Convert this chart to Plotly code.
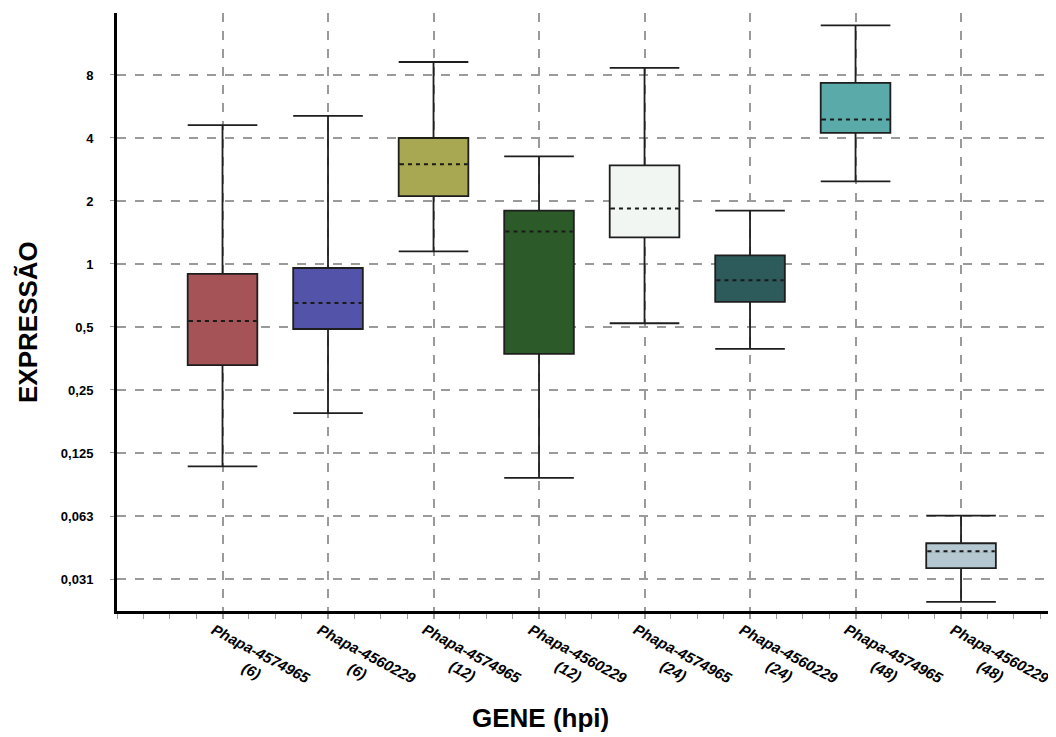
import plotly.graph_objects as go
import math

# ---- data ----
genes = ["Phapa-4574965", "Phapa-4560229", "Phapa-4574965", "Phapa-4560229",
         "Phapa-4574965", "Phapa-4560229", "Phapa-4574965", "Phapa-4560229"]
hpi = ["6", "6", "12", "12", "24", "24", "48", "48"]
lower_whisker = [0.108, 0.194, 1.15, 0.095, 0.521, 0.393, 2.48, 0.0243]
q1 = [0.329, 0.489, 2.11, 0.372, 1.34, 0.659, 4.23, 0.0352]
median = [0.534, 0.651, 3.00, 1.43, 1.84, 0.837, 4.90, 0.0424]
q3 = [0.896, 0.957, 4.00, 1.80, 2.96, 1.10, 7.33, 0.0463]
upper_whisker = [4.61, 5.10, 9.23, 3.27, 8.65, 1.80, 13.8, 0.0627]
colors = ["#A55357", "#5353A9", "#A9A852", "#2C5A28", "#F2F6F2", "#2D5A5B", "#5AAAAA", "#B5C8D1"]

y_tick_vals = [0.03125, 0.0625, 0.125, 0.25, 0.5, 1, 2, 4, 8]
y_tick_text = ["0,031", "0,063", "0,125", "0,25", "0,5", "1", "2", "4", "8"]

box_w = 0.66
fig = go.Figure()
positions = list(range(len(genes)))
for i in positions:
    fig.add_trace(go.Box(
        x=[i], q1=[q1[i]], median=[median[i]], q3=[q3[i]],
        lowerfence=[lower_whisker[i]], upperfence=[upper_whisker[i]],
        width=box_w, whiskerwidth=1, fillcolor=colors[i],
        line=dict(color="#1e1e1e", width=1.8), showlegend=False,
        boxpoints=False, hoverinfo="skip"))

# dashed medians: hide plotly's solid median, then draw dashed one
mx, my = [], []
for i in positions:
    mx += [i - box_w / 2 + 0.012, i + box_w / 2 - 0.012, None]
    my += [median[i], median[i], None]
for i in positions:
    fig.add_trace(go.Scatter(x=mx[3 * i:3 * i + 2], y=my[3 * i:3 * i + 2], mode="lines",
                             line=dict(color=colors[i], width=3), showlegend=False, hoverinfo="skip"))
fig.add_trace(go.Scatter(x=mx, y=my, mode="lines",
                         line=dict(color="#1a1a1a", width=2, dash="4px,4px"),
                         showlegend=False, hoverinfo="skip"))

# rotated, centred two-line category labels
annotations = []
for i, (g, h) in enumerate(zip(genes, hpi)):
    annotations.append(dict(
        text=f"{g}<br>({h})", xref="x", yref="paper", x=i, y=0,
        xshift=34, yshift=-51, xanchor="center", yanchor="middle",
        textangle=28, align="center", showarrow=False,
        font=dict(size=15, weight="bold", style="italic")))

annotations.append(dict(text="GENE (hpi)", xref="paper", yref="paper",
                        x=(532 - 109) / 939, y=-0.179, xanchor="center", yanchor="middle",
                        showarrow=False, font=dict(size=26, weight="bold")))
annotations.append(dict(text="EXPRESSÃO", xref="paper", yref="paper",
                        x=(20 - 109) / 939, y=(603 - 314) / 598, xanchor="center", yanchor="middle",
                        textangle=-90, showarrow=False, font=dict(size=26, weight="bold")))

fig.update_layout(
    width=1048, height=729,
    margin=dict(l=109, r=0, t=5, b=126),
    paper_bgcolor="white", plot_bgcolor="white",
    boxmode="overlay",
    font=dict(family="Liberation Sans, Arial, sans-serif", color="black"),
    xaxis=dict(
        range=[-1, 7.9], tickmode="array", tickvals=positions, showticklabels=False,
        showline=True, linecolor="black", linewidth=3,
        showgrid=True, gridcolor="#9a9a9a", griddash="dash", gridwidth=1.5,
        ticks="outside", ticklen=5, tickcolor="#9a9a9a", tickwidth=1.5,
        minor=dict(dtick=0.25, tick0=0, ticks="outside", ticklen=5,
                   tickcolor="#9a9a9a", tickwidth=1.2, showgrid=False),
        zeroline=False,
    ),
    yaxis=dict(
        type="log", range=[math.log10(2 ** -5.508), math.log10(2 ** 3.984)],
        tickmode="array", tickvals=y_tick_vals, ticktext=y_tick_text,
        tickfont=dict(size=13, weight="bold"),
        showline=True, linecolor="black", linewidth=3,
        showgrid=True, gridcolor="#9a9a9a", griddash="dash", gridwidth=1.5,
        ticks="outside", ticklen=4, tickcolor="#9a9a9a", ticklabelstandoff=14,
        zeroline=False,
    ),
    annotations=annotations,
)

fig.write_html("out.html")
